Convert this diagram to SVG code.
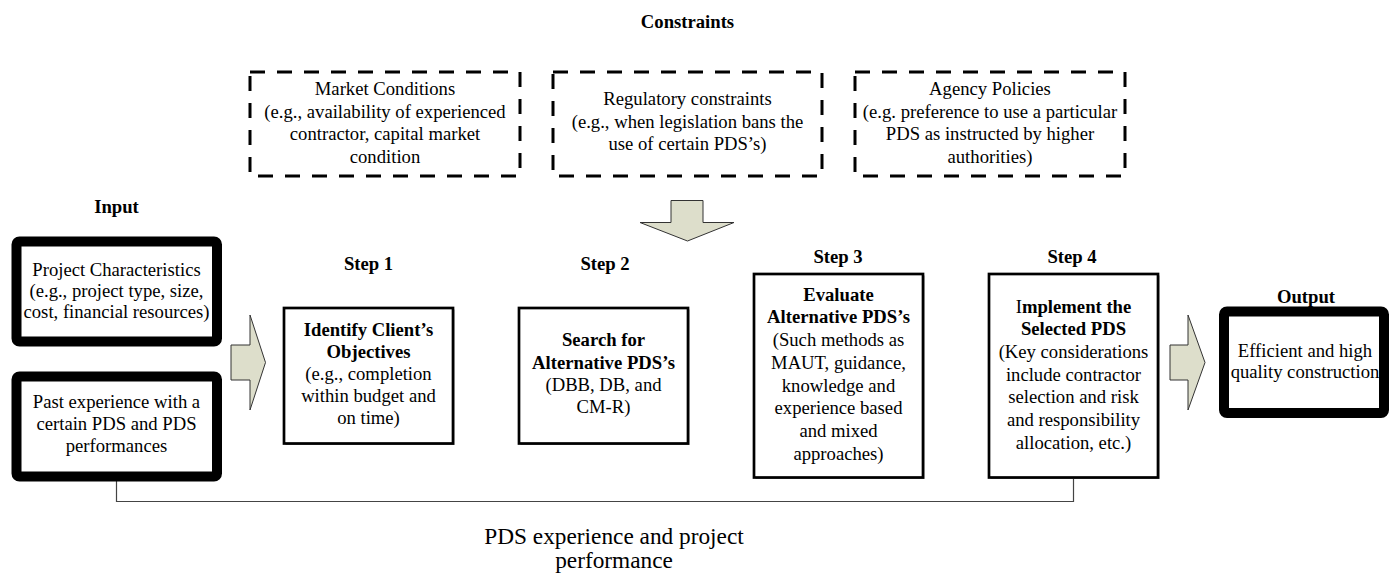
<svg xmlns="http://www.w3.org/2000/svg" width="1389" height="576" viewBox="0 0 1389 576">
  <style>
    .dash { fill: #fff; stroke: #000; stroke-width: 3; stroke-dasharray: 15 12; }
    .thick { fill: #fff; stroke: #000; stroke-width: 10; stroke-linejoin: round; }
    .step { fill: #fff; stroke: #000; stroke-width: 2.7; }
    .shadow { fill: #8c8c8c; }
    .arrow { fill: #DDDECB; stroke: #333; stroke-width: 1; }
    .link { fill: none; stroke: #444; stroke-width: 1.2; }
  </style>

  <rect width="1389" height="576" fill="#fff"/>

  <g font-family="Liberation Serif, serif" font-size="18.67" fill="#000" text-anchor="middle">

  <!-- constraint boxes -->
  <g id="market-conditions">
    <rect class="dash" x="250" y="72" width="270" height="104"/>
    <text x="385" y="95">Market Conditions</text>
    <text x="385" y="117.5">(e.g., availability of experienced</text>
    <text x="385" y="140">contractor, capital market</text>
    <text x="385" y="162.5">condition</text>
  </g>
  <g id="regulatory-constraints">
    <rect class="dash" x="553" y="72" width="269" height="104"/>
    <text x="687.5" y="105">Regulatory constraints</text>
    <text x="687.5" y="127.5">(e.g., when legislation bans the</text>
    <text x="687.5" y="150">use of certain PDS’s)</text>
  </g>
  <g id="agency-policies">
    <rect class="dash" x="855" y="72" width="270" height="104"/>
    <text x="990" y="95">Agency Policies</text>
    <text x="990" y="117.5">(e.g. preference to use a particular</text>
    <text x="990" y="140">PDS as instructed by higher</text>
    <text x="990" y="162.5">authorities)</text>
  </g>

  <!-- block arrows -->
  <g id="constraint-arrow">
    <polygon class="arrow" points="671,200.5 703,200.5 703,222.5 734,222.5 687.5,241 640,222.5 671,222.5"/>
  </g>
  <g id="input-arrow">
    <polygon class="arrow" points="231,345 250,345 250,315 265.5,362.5 250,410 250,380 231,380"/>
  </g>
  <g id="output-arrow">
    <polygon class="arrow" points="1170,345 1188,345 1188,315 1205,362.5 1188,410 1188,380 1170,380"/>
  </g>

  <!-- feedback connector -->
  <g id="connectors">
    <polyline class="link" points="116.5,481 116.5,501.5 1073.5,501.5 1073.5,477"/>
  </g>

  <!-- inputs -->
  <g id="project-characteristics">
    <rect class="thick" x="16.5" y="241.5" width="200.5" height="100" rx="3"/>
    <text x="116.5" y="276">Project Characteristics</text>
    <text x="116.5" y="297">(e.g., project type, size,</text>
    <text x="116.5" y="318">cost, financial resources)</text>
  </g>
  <g id="past-experience">
    <rect class="thick" x="16.5" y="376.5" width="200.5" height="100" rx="3"/>
    <text x="116.5" y="408">Past experience with a</text>
    <text x="116.5" y="430">certain PDS and PDS</text>
    <text x="116.5" y="452">performances</text>
  </g>

  <!-- steps -->
  <g id="step-1">
    <rect class="shadow" x="285.5" y="309.5" width="169" height="135.5"/>
    <rect class="step" x="284" y="308" width="169" height="135.5"/>
    <text x="368.5" y="336" font-weight="bold">Identify Client’s</text>
    <text x="368.5" y="358" font-weight="bold">Objectives</text>
    <text x="368.5" y="380">(e.g., completion</text>
    <text x="368.5" y="402">within budget and</text>
    <text x="368.5" y="424">on time)</text>
  </g>
  <g id="step-2">
    <rect class="shadow" x="520.5" y="309.5" width="169" height="135.5"/>
    <rect class="step" x="519" y="308" width="169" height="135.5"/>
    <text x="603.5" y="346" font-weight="bold">Search for</text>
    <text x="603.5" y="368.5" font-weight="bold">Alternative PDS’s</text>
    <text x="603.5" y="391">(DBB, DB, and</text>
    <text x="603.5" y="413">CM-R)</text>
  </g>
  <g id="step-3">
    <rect class="shadow" x="755.5" y="275.5" width="169" height="203.5"/>
    <rect class="step" x="754" y="274" width="169" height="203.5"/>
    <text x="838.5" y="300.5" font-weight="bold">Evaluate</text>
    <text x="838.5" y="323.3" font-weight="bold">Alternative PDS’s</text>
    <text x="838.5" y="346">(Such methods as</text>
    <text x="838.5" y="368.8">MAUT, guidance,</text>
    <text x="838.5" y="391.6">knowledge and</text>
    <text x="838.5" y="414.4">experience based</text>
    <text x="838.5" y="437.2">and mixed</text>
    <text x="838.5" y="460">approaches)</text>
  </g>
  <g id="step-4">
    <rect class="shadow" x="990.5" y="275.5" width="169" height="203.5"/>
    <rect class="step" x="989" y="274" width="169" height="203.5"/>
    <text x="1073.5" y="312.5" font-weight="bold"><tspan font-weight="normal">I</tspan>mplement the</text>
    <text x="1073.5" y="335.2" font-weight="bold">Selected PDS</text>
    <text x="1073.5" y="358">(Key considerations</text>
    <text x="1073.5" y="380.6">include contractor</text>
    <text x="1073.5" y="403.3">selection and risk</text>
    <text x="1073.5" y="426">and responsibility</text>
    <text x="1073.5" y="448.5">allocation, etc.)</text>
  </g>

  <!-- output -->
  <g id="output">
    <rect class="thick" x="1224" y="311.5" width="160" height="101.5" rx="3"/>
    <text x="1305" y="356.5">Efficient and high</text>
    <text x="1305" y="378">quality construction</text>
  </g>

  <!-- connector caption -->
  <g id="feedback-label" font-size="23.3">
    <text x="614" y="544">PDS experience and project</text>
    <text x="614" y="567.5">performance</text>
  </g>

  <!-- section headings -->
  <g id="labels" font-weight="bold">
    <text x="687.5" y="28">Constraints</text>
    <text x="116.5" y="213">Input</text>
    <text x="368.5" y="270">Step 1</text>
    <text x="605" y="270">Step 2</text>
    <text x="838" y="263">Step 3</text>
    <text x="1072" y="263">Step 4</text>
    <text x="1306" y="303">Output</text>
  </g>

  </g>
</svg>
